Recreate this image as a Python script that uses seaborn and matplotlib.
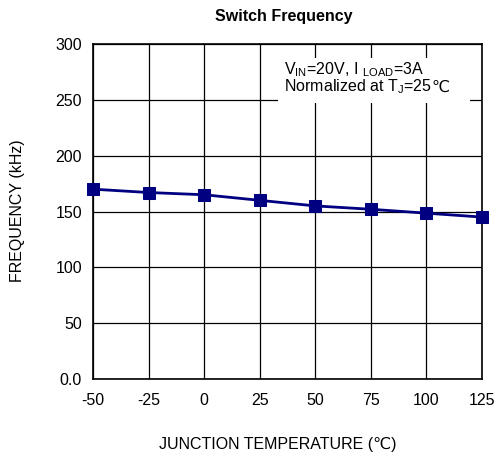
import matplotlib
matplotlib.use("Agg")
import matplotlib.pyplot as plt
import seaborn as sns
import pandas as pd
from matplotlib.patches import Rectangle

temps = [-50, -25, 0, 25, 50, 75, 100, 125]
freq = [170, 167, 165, 160, 155, 152, 148.5, 145]
xticks = [-50, -25, 0, 25, 50, 75, 100, 125]
yticks = [0, 50, 100, 150, 200, 250, 300]
ytick_labels = ["0.0", "50", "100", "150", "200", "250", "300"]

sns.set_theme(style="white")
plt.rcParams['font.family'] = ['Liberation Sans', 'DejaVu Sans']
plt.rcParams['mathtext.fontset'] = 'custom'
plt.rcParams['mathtext.rm'] = 'Liberation Sans'
plt.rcParams['text.color'] = 'black'

FS = 11.5
df = pd.DataFrame({"T": temps, "F": freq})

fig = plt.figure(figsize=(4.96, 4.59), dpi=100)
ax = fig.add_axes([93/496, 80/459, 389/496, 335/459])

sns.lineplot(data=df, x="T", y="F", ax=ax, color="#000080", linewidth=2,
             marker="s", markersize=9, markeredgecolor="#000080", zorder=5,
             clip_on=False)

ax.set_xlim(-50, 125)
ax.set_ylim(0, 300)
ax.set_xticks(xticks)
ax.set_xticklabels([str(t) for t in xticks])
ax.set_yticks(yticks)
ax.set_yticklabels(ytick_labels)
ax.grid(True, color="black", linewidth=0.9)
ax.set_axisbelow(True)
for s in ax.spines.values():
    s.set_color("black")
    s.set_linewidth(1.2)
ax.tick_params(axis="both", length=0, labelsize=FS, colors="black", labelcolor="black")
ax.tick_params(axis="x", pad=10)
ax.tick_params(axis="y", pad=8)
ax.set_xlabel("")
ax.set_ylabel("")

# annotation box
ax.add_patch(Rectangle((278/496, (459-103)/459), 192/496, 45/459, transform=fig.transFigure,
                       facecolor="white", edgecolor="none", zorder=3))
fig.text(284/496, (459-70)/459, r"V$_{\mathregular{IN}}$=20V, I $_{\mathregular{LOAD}}$=3A",
         fontsize=FS, va="center", ha="left", zorder=6, color="black")
t2 = fig.text(284/496, (459-87)/459, r"Normalized at T$_{\mathregular{J}}$=25",
              fontsize=FS, va="center", ha="left", zorder=6, color="black")
fig.canvas.draw()
bb = t2.get_window_extent()
fig.text(bb.x1 / fig.bbox.width, (459-87)/459, "℃", fontsize=FS, va="center", ha="left",
         zorder=6, family=['DejaVu Sans'], color="black")

fig.text(284/496, (459-16)/459, "Switch Frequency", fontsize=FS, fontweight="bold",
         ha="center", va="center", color="black")
fig.text(18/496, (459-211)/459, "FREQUENCY (kHz)", fontsize=FS,
         rotation=90, ha="center", va="center", color="black")
fig.text(159/496, (459-445)/459, "JUNCTION TEMPERATURE (℃)", fontsize=FS,
         ha="left", va="center", color="black")

fig.savefig("out.png", dpi=100)
